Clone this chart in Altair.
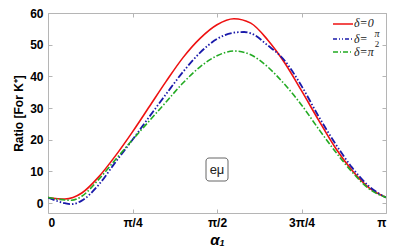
import altair as alt
import pandas as pd

# alpha_1 in units of pi, ratio values
red_x = [0.00, 0.05, 0.10, 0.15, 0.20, 0.25, 0.30, 0.35, 0.40, 0.45, 0.50, 0.55, 0.60, 0.65, 0.70, 0.75, 0.80, 0.85, 0.90, 0.95, 1.00]
red_y = [1.8, 1.3, 3.2, 8.3, 15.0, 22.5, 30.5, 38.5, 46.0, 52.0, 56.3, 58.2, 56.8, 51.5, 44.3, 35.5, 26.3, 17.5, 10.3, 4.8, 1.8]

blue_x = [0.00, 0.05, 0.07, 0.10, 0.15, 0.20, 0.25, 0.30, 0.35, 0.40, 0.45, 0.50, 0.55, 0.58, 0.60, 0.65, 0.70, 0.75, 0.80, 0.85, 0.90, 0.95, 1.00]
blue_y = [1.8, 0.0, -0.3, 0.8, 5.8, 13.0, 20.0, 27.3, 34.5, 41.5, 47.5, 51.8, 53.8, 54.0, 53.6, 49.8, 45.0, 37.0, 27.5, 18.8, 11.2, 5.3, 1.8]

green_x = [0.00, 0.05, 0.07, 0.10, 0.15, 0.20, 0.25, 0.30, 0.35, 0.40, 0.45, 0.50, 0.55, 0.60, 0.65, 0.70, 0.75, 0.80, 0.85, 0.90, 0.95, 1.00]
green_y = [1.8, 1.0, 0.9, 2.2, 7.5, 13.8, 20.0, 26.0, 32.0, 38.0, 43.0, 46.5, 48.0, 46.8, 43.0, 37.5, 31.0, 23.5, 16.3, 9.8, 4.5, 1.8]

x_ticks = [0, 0.25, 0.5, 0.75, 1]
x_tick_labels = ["0", "π/4", "π/2", "3π/4", "π"]
y_ticks = [0, 10, 20, 30, 40, 50, 60]

label_expr = ""
for v, l in zip(x_ticks, x_tick_labels):
    label_expr += f"datum.value == {v} ? '{l}' : "
label_expr += "''"

FONT = "Liberation Sans"
TICK = "#b5b5b5"
xs = alt.Scale(domain=[0, 1], nice=False, zero=False)
ys = alt.Scale(domain=[-3.1, 60], nice=False, zero=False)

x_axis = alt.Axis(values=x_ticks, labelExpr=label_expr, title="α₁", domain=False,
                  grid=False, tickColor=TICK, tickSize=4, offset=-4, labelPadding=4,
                  labelFont=FONT, labelFontWeight="bold", labelFontSize=12, labelColor="black",
                  titleFont=FONT, titleFontWeight="bold", titleFontStyle="italic",
                  titleFontSize=15, titlePadding=4, titleColor="black")
y_axis = alt.Axis(values=y_ticks, title="Ratio [For K⁺]", domain=False, grid=False,
                  tickColor=TICK, tickSize=4, offset=-4, labelPadding=5,
                  labelFont=FONT, labelFontWeight="bold", labelFontSize=12, labelColor="black",
                  titleFont=FONT, titleFontWeight="bold", titleFontSize=12,
                  titlePadding=4, titleColor="black")
x_top = alt.Axis(orient="top", values=x_ticks, labels=False, title=None, domain=False,
                 grid=False, tickColor=TICK, tickSize=4, offset=-4)
y_right = alt.Axis(orient="right", values=y_ticks, labels=False, title=None, domain=False,
                   grid=False, tickColor=TICK, tickSize=4, offset=-4)

def series(xv, yv, color, dash, width, xa=None, ya=None):
    df = pd.DataFrame({"a": xv, "r": yv})
    mk = dict(color=color, strokeWidth=width, interpolate="monotone", clip=True)
    if dash:
        mk["strokeDash"] = dash
    return alt.Chart(df).mark_line(**mk).encode(
        x=alt.X("a:Q", scale=xs, axis=xa),
        y=alt.Y("r:Q", scale=ys, axis=ya),
    )

frame = alt.Chart(pd.DataFrame({"a": red_x, "r": red_y})).mark_point(opacity=0).encode(
    x=alt.X("a:Q", scale=xs, axis=x_top),
    y=alt.Y("r:Q", scale=ys, axis=y_right),
)
red = series(red_x, red_y, "#ee1111", None, 1.6, x_axis, y_axis)
green = series(green_x, green_y, "#22aa22", [6, 2, 1.5, 2], 1.6)
blue = series(blue_x, blue_y, "#1a1aaa", [7, 2, 1.5, 2, 1.5, 2], 1.8)

one = alt.Data(values=[{"k": 1}])

def leg_line(y, color, dash):
    mk = dict(color=color, strokeWidth=1.5)
    if dash:
        mk["strokeDash"] = dash
    return alt.Chart(one).mark_rule(**mk).encode(
        x=alt.value(285), x2=alt.value(305), y=alt.value(y))

def leg_text(x, y, txt, size=12, base="middle"):
    return alt.Chart(one).mark_text(text=txt, align="left", baseline=base,
                                    font="Liberation Serif", fontStyle="italic",
                                    fontSize=size, color="#222").encode(
        x=alt.value(x), y=alt.value(y))

legend = [
    leg_line(11, "#ee1111", None), leg_text(306, 10, "δ=0"),
    leg_line(26, "#1a1aaa", [4, 2, 1, 2, 1, 2]), leg_text(306, 26, "δ="),
    alt.Chart(one).mark_text(text="π", align="center", baseline="middle", font="Liberation Serif",
                             fontStyle="italic", fontSize=10, color="#222").encode(
        x=alt.value(329), y=alt.value(21)),
    alt.Chart(one).mark_text(text="2", align="center", baseline="middle", font="Liberation Serif",
                             fontSize=9, color="#222").encode(
        x=alt.value(329), y=alt.value(31)),
    leg_line(39, "#22aa22", [5, 2, 1, 2]), leg_text(306, 39, "δ=π"),
]

box = alt.Chart(one).mark_rect(fill="white", stroke="#666", strokeWidth=1, cornerRadius=3).encode(
    x=alt.value(158), x2=alt.value(180), y=alt.value(145), y2=alt.value(168))
lbl = alt.Chart(one).mark_text(text="eμ", align="center", baseline="middle", font=FONT,
                               fontSize=13, color="#222").encode(
    x=alt.value(169), y=alt.value(157))

chart = alt.layer(frame, red, blue, green, box, lbl, *legend).resolve_axis(
    x="independent", y="independent"
).properties(
    width=338, height=200, autosize="none",
    padding={"left": 40, "top": 5, "right": 13, "bottom": 36},
).configure_view(stroke=TICK, strokeWidth=1)

chart.save("out.html", embed_options={"renderer": "svg", "actions": False})
